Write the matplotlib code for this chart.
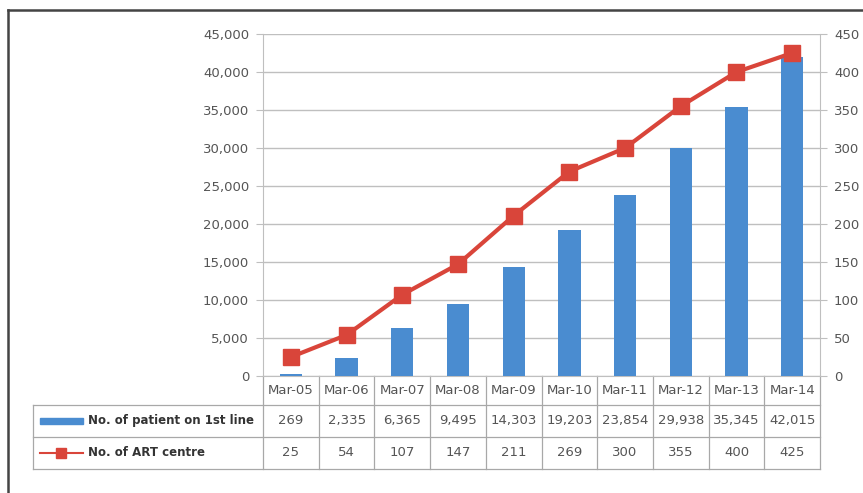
import matplotlib.pyplot as plt
from matplotlib.lines import Line2D
from matplotlib.patches import Rectangle
import matplotlib.transforms as mtransforms

# data
months = ['Mar-05', 'Mar-06', 'Mar-07', 'Mar-08', 'Mar-09',
          'Mar-10', 'Mar-11', 'Mar-12', 'Mar-13', 'Mar-14']
patients = [269, 2335, 6365, 9495, 14303, 19203, 23854, 29938, 35345, 42015]
centres = [25, 54, 107, 147, 211, 269, 300, 355, 400, 425]
patients_label = 'No. of patient on 1st line'
centres_label = 'No. of ART centre'

BLUE = '#4a8cd0'
RED = '#d9453a'
GRID = '#bfbfbf'
TXT = '#555555'

plt.rcParams['font.family'] = ['DejaVu Sans']

fig = plt.figure(figsize=(8.63, 4.93), dpi=100)
ax = fig.add_axes([0.3048, 0.2373, 0.6454, 0.6937])
ax2 = ax.twinx()

x = list(range(len(months)))
ax.bar(x, patients, width=0.4, color=BLUE, zorder=3)
ax2.plot(x, centres, color=RED, lw=3, marker='s', ms=12, zorder=4)

ax.set_xlim(-0.5, len(months) - 0.5)
ax.set_ylim(0, 45000)
ax2.set_ylim(0, 450)
ax.set_yticks(range(0, 45001, 5000))
ax.set_yticklabels([f'{v:,}' for v in range(0, 45001, 5000)])
ax2.set_yticks(range(0, 451, 50))
ax.set_xticks([])

ax.yaxis.grid(True, color=GRID, lw=1, zorder=0)
for a in (ax, ax2):
    for s in ('top', 'right', 'left', 'bottom'):
        a.spines[s].set_visible(False)
    a.tick_params(axis='y', length=5, color=GRID, labelsize=9.5,
                  labelcolor=TXT, pad=5)
ax.spines['left'].set_visible(True)
ax.spines['left'].set_color(GRID)
ax2.spines['right'].set_visible(True)
ax2.spines['right'].set_color(GRID)
ax.spines['bottom'].set_visible(True)
ax.spines['bottom'].set_color(GRID)

# data table under the plot
tr = mtransforms.blended_transform_factory(ax.transData, ax.transAxes)
rows = [0.0, -0.085, -0.178, -0.272]
left = -0.413  # axes fraction
line_kw = dict(color='#a8a8a8', lw=0.9, clip_on=False)

for y in rows[1:]:
    ax.add_line(Line2D([left, 1], [y, y], transform=ax.transAxes, **line_kw))
ax.add_line(Line2D([left, left], [rows[1], rows[3]], transform=ax.transAxes, **line_kw))
for i in range(len(months) + 1):
    ax.add_line(Line2D([i - 0.5, i - 0.5], [rows[0], rows[3]], transform=tr, **line_kw))

mid = [(rows[k] + rows[k + 1]) / 2 for k in range(3)]
for i, m in enumerate(months):
    ax.text(i, mid[0], m, transform=tr, ha='center', va='center',
            fontsize=9.5, color=TXT, clip_on=False)
    ax.text(i, mid[1], f'{patients[i]:,}', transform=tr, ha='center', va='center',
            fontsize=9.5, color=TXT, clip_on=False)
    ax.text(i, mid[2], f'{centres[i]}', transform=tr, ha='center', va='center',
            fontsize=9.5, color=TXT, clip_on=False)

# legend keys inside the table
ax.add_patch(Rectangle((-0.4005, mid[1] - 0.009), 0.077, 0.018, transform=ax.transAxes,
                       color=BLUE, clip_on=False))
ax.add_line(Line2D([-0.4005, -0.3235], [mid[2], mid[2]], transform=ax.transAxes,
                   color=RED, lw=1.5, clip_on=False))
ax.add_line(Line2D([-0.362], [mid[2]], transform=ax.transAxes, color=RED,
                   marker='s', ms=7, clip_on=False))
ax.text(-0.314, mid[1], patients_label, transform=ax.transAxes, ha='left', va='center',
        fontsize=8.5, fontweight='bold', color='#333333', clip_on=False)
ax.text(-0.314, mid[2], centres_label, transform=ax.transAxes, ha='left', va='center',
        fontsize=8.5, fontweight='bold', color='#333333', clip_on=False)

# frame edges
fig.add_artist(Line2D([8 / 863, 8 / 863], [0, 1 - 10 / 493], transform=fig.transFigure,
                      color='#444444', lw=1.8))
fig.add_artist(Line2D([8 / 863, 1], [1 - 10 / 493, 1 - 10 / 493], transform=fig.transFigure,
                      color='#444444', lw=1.8))

fig.savefig('out.png', dpi=100)
